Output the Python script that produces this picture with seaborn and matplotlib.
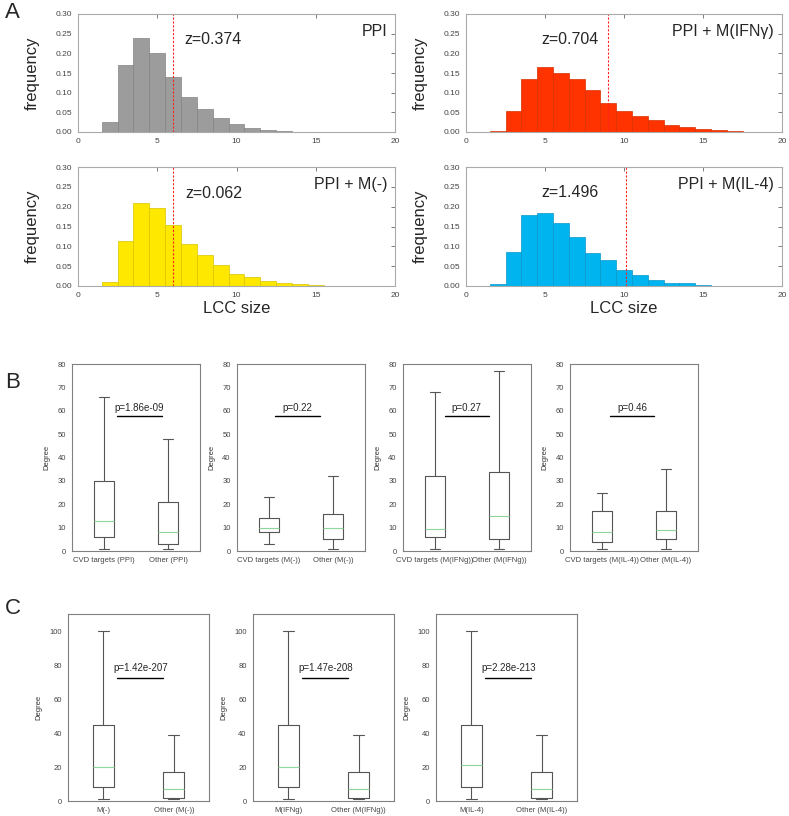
import matplotlib
matplotlib.use("Agg")
import matplotlib.pyplot as plt
import seaborn as sns
import numpy as np
import pandas as pd

sns.set_style("white")
plt.rcParams['font.family'] = ['Liberation Sans', 'DejaVu Sans']

# ---- panel A: LCC size histograms (bins centred on integers) ----
lcc_sizes_ppi = [2, 3, 4, 5, 6, 7, 8, 9, 10, 11, 12, 13, 14]
freq_ppi = [0.025, 0.170, 0.240, 0.200, 0.141, 0.089, 0.059, 0.035, 0.021, 0.010, 0.006, 0.0025, 0.001]

lcc_sizes_ifng = [2, 3, 4, 5, 6, 7, 8, 9, 10, 11, 12, 13, 14, 15, 16, 17, 18, 19]
freq_ifng = [0.0025, 0.0525, 0.135, 0.164, 0.150, 0.136, 0.106, 0.075, 0.054, 0.040,
             0.031, 0.0186, 0.012, 0.0076, 0.004, 0.0025, 0.001, 0.001]

lcc_sizes_m0 = [2, 3, 4, 5, 6, 7, 8, 9, 10, 11, 12, 13, 14, 15, 16]
freq_m0 = [0.011, 0.113, 0.208, 0.196, 0.155, 0.107, 0.077, 0.052, 0.029, 0.022,
           0.012, 0.0067, 0.004, 0.0025, 0.001]

lcc_sizes_il4 = [2, 3, 4, 5, 6, 7, 8, 9, 10, 11, 12, 13, 14, 15, 16, 17]
freq_il4 = [0.005, 0.086, 0.178, 0.185, 0.159, 0.123, 0.084, 0.065, 0.040, 0.027,
            0.015, 0.0076, 0.0067, 0.0025, 0.001, 0.0008]

observed_lcc = [6.0, 9.0, 6.0, 10.1]
z_scores = ["z=0.374", "z=0.704", "z=0.062", "z=1.496"]
network_names = ["PPI", "PPI + M(IFNγ)", "PPI + M(-)", "PPI + M(IL-4)"]

# ---- panel B: degree of CVD targets vs other (whislo, q1, med, q3, whishi) ----
b_labels = [("CVD targets (PPI)", "Other (PPI)"),
            ("CVD targets (M(-))", "Other (M(-))"),
            ("CVD targets (M(IFNg))", "Other (M(IFNg))"),
            ("CVD targets (M(IL-4))", "Other (M(IL-4))")]
b_stats = [([1, 6, 13, 30, 66], [1, 3, 8, 21, 48]),
           ([3, 8, 10, 14, 23], [1, 5, 10, 16, 32]),
           ([1, 6, 9.5, 32, 68], [1, 5, 15, 34, 77]),
           ([1, 4, 8, 17, 25], [1, 5, 9, 17, 35])]
b_pvals = ["p=1.86e-09", "p=0.22", "p=0.27", "p=0.46"]

# ---- panel C: degree of macrophage genes vs other ----
c_labels = [("M(-)", "Other (M(-))"),
            ("M(IFNg)", "Other (M(IFNg))"),
            ("M(IL-4)", "Other (M(IL-4))")]
c_stats = [([1, 8, 20, 45, 100], [1, 2, 7, 17, 39]),
           ([1, 8, 20, 45, 100], [1, 2, 7, 17, 39]),
           ([1, 8, 21, 45, 100], [1, 2, 7, 17, 39])]
c_pvals = ["p=1.42e-207", "p=1.47e-208", "p=2.28e-213"]

W, H = 789, 816
fig = plt.figure(figsize=(W / 100, H / 100), dpi=100)


def px_axes(left, top, right, bottom):
    return fig.add_axes([left / W, 1 - bottom / H, (right - left) / W, (bottom - top) / H])


hist_data = [(lcc_sizes_ppi, freq_ppi), (lcc_sizes_ifng, freq_ifng),
             (lcc_sizes_m0, freq_m0), (lcc_sizes_il4, freq_il4)]
fill_colors = ["#9c9c9c", "#ff3300", "#ffe800", "#00b4f0"]
edge_colors = ["#848484", "#d83000", "#d8c400", "#0a96c8"]
hist_boxes = [(78, 14, 395, 132), (466, 14, 782, 132),
              (78, 167, 395, 286), (466, 167, 782, 286)]
z_pos = [(6.7, 0.235), (4.8, 0.235), (6.75, 0.234), (4.8, 0.235)]

for i, (sizes, freqs) in enumerate(hist_data):
    ax = px_axes(*hist_boxes[i])
    df = pd.DataFrame({"lcc": sizes, "freq": freqs})
    edges = np.arange(min(sizes) - 0.5, max(sizes) + 1.0, 1.0)
    sns.histplot(data=df, x="lcc", weights="freq", bins=list(edges), color=fill_colors[i],
                 edgecolor=edge_colors[i], linewidth=0.5, alpha=1, ax=ax)
    ax.axvline(observed_lcc[i], color="#ff2020", ls="--", lw=0.8, dashes=(2, 1.5))
    ax.set_xlim(0, 20)
    ax.set_ylim(0, 0.30)
    ax.set_xticks([0, 5, 10, 15, 20])
    ax.set_yticks(np.arange(0, 0.31, 0.05))
    ax.set_yticklabels([f"{v:.2f}" for v in np.arange(0, 0.31, 0.05)])
    ax.tick_params(labelsize=6, colors="#666666", labelcolor="#444444", direction="in",
                   length=3, width=0.6, top=True, right=True, pad=4)
    for s in ax.spines.values():
        s.set_color("#aaaaaa")
        s.set_linewidth(0.8)
    ax.set_ylabel("frequency", fontsize=12)
    ax.yaxis.set_label_coords(-0.12, 0.5)
    if i >= 2:
        ax.set_xlabel("LCC size", fontsize=12)
        ax.xaxis.set_label_coords(0.5, -0.13)
    else:
        ax.set_xlabel("")
    ax.text(z_pos[i][0], z_pos[i][1], z_scores[i], fontsize=11.5, ha="left", va="center")
    ax.text(0.975, 0.855, network_names[i], fontsize=11.5, ha="right", va="center",
            transform=ax.transAxes)


def draw_boxes(ax, stats, labels, pval, ymax, yticks, line_y, text_y, line_x):
    bxp_stats = []
    for st, lab in zip(stats, labels):
        bxp_stats.append(dict(whislo=st[0], q1=st[1], med=st[2], q3=st[3],
                              whishi=st[4], label=lab))
    ax.bxp(bxp_stats, positions=[1, 2], widths=0.3, showfliers=False,
           boxprops=dict(color="#555555", lw=0.8),
           whiskerprops=dict(color="#555555", lw=0.8),
           capprops=dict(color="#555555", lw=0.8),
           medianprops=dict(color="#8fd69a", lw=0.8))
    ax.set_xlim(0.5, 2.5)
    ax.set_ylim(0, ymax)
    ax.set_yticks(yticks)
    ax.set_xticks([1, 2])
    ax.set_xticklabels(labels)
    ax.tick_params(labelsize=5.5, colors="#777777", labelcolor="#444444", direction="out",
                   length=2.5, width=0.6, pad=2)
    for s in ax.spines.values():
        s.set_color("#808080")
        s.set_linewidth(0.8)
    ax.set_ylabel("Degree", fontsize=5.5, color="#333333")
    ax.plot(line_x, [line_y, line_y], color="black", lw=1)
    ax.text(np.mean(line_x), text_y, pval, fontsize=7, ha="center", va="center")


b_lefts = [72, 237, 403, 570]
b_linex = [(1.2, 1.9), (1.1, 1.8), (1.15, 1.84), (1.13, 1.82)]
for i in range(4):
    ax = px_axes(b_lefts[i], 364, b_lefts[i] + 128, 551)
    draw_boxes(ax, b_stats[i], b_labels[i], b_pvals[i], 80, np.arange(0, 81, 10),
               57.6, 61.2, b_linex[i])
    ax.yaxis.set_label_coords(-0.17, 0.5)

c_lefts = [68, 253, 436]
for i in range(3):
    ax = px_axes(c_lefts[i], 614, c_lefts[i] + 141, 801)
    draw_boxes(ax, c_stats[i], c_labels[i], c_pvals[i], 110, np.arange(0, 101, 20),
               72.5, 78, (1.2, 1.85))
    ax.yaxis.set_label_coords(-0.18, 0.5)

for letter, y in [("A", 12), ("B", 382), ("C", 608)]:
    fig.text(5 / W, 1 - y / H, letter, fontsize=16, ha="left", va="center")

fig.savefig("out.png", dpi=100)
